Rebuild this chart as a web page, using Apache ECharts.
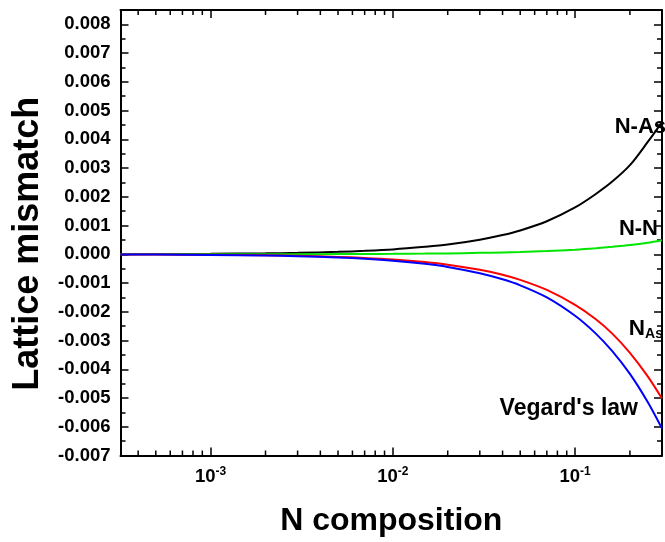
<!DOCTYPE html>
<html>
<head>
<meta charset="utf-8">
<script src="https://cdn.jsdelivr.net/npm/echarts@6/dist/echarts.min.js"></script>
<style>
html,body{margin:0;padding:0;background:#fff;}
#chart{width:665px;height:542px;}
</style>
</head>
<body>
<div id="chart"></div>
<script>
// N composition (x values)
var nComp = [0.00032, 0.0005, 0.001, 0.002, 0.003, 0.005, 0.007, 0.01, 0.015, 0.02, 0.03, 0.04, 0.05, 0.07, 0.1, 0.13, 0.16, 0.2, 0.25, 0.3];
// Lattice mismatch series
var nAs     = [0.000005, 0.000008, 0.000017, 0.000034, 0.00005, 0.000085, 0.00012, 0.00017, 0.00026, 0.00034, 0.00051, 0.00067, 0.00083, 0.00115, 0.00163, 0.0021, 0.00253, 0.0031, 0.0039, 0.0046];
var nN      = [0.0000005, 0.0000008, 0.0000016, 0.0000032, 0.0000048, 0.000008, 0.000011, 0.000016, 0.000024, 0.000032, 0.00005, 0.000065, 0.00008, 0.000112, 0.00016, 0.00021, 0.00026, 0.00032, 0.0004, 0.00049];
var nSubAs  = [-0.0000058, -0.000009, -0.000018, -0.000036, -0.000054, -0.00009, -0.000126, -0.00018, -0.00027, -0.00036, -0.00054, -0.00071, -0.00089, -0.00124, -0.00176, -0.00226, -0.00276, -0.00343, -0.00424, -0.00502];
var vegard  = [-0.000007, -0.000011, -0.000022, -0.000044, -0.000066, -0.00011, -0.000153, -0.00022, -0.00033, -0.00044, -0.00066, -0.00087, -0.00108, -0.0015, -0.00214, -0.00276, -0.00337, -0.00416, -0.00513, -0.00606];
// Series names
var seriesNames = ['N-As', 'N-N', 'N_As', "Vegard's law"];
// Axis ranges / ticks
var xMin = 0.00032, xMax = 0.3;
var yMin = -0.007, yMax = 0.0085, yMajor = 0.001, yMinor = 0.0005;
// Minor tick positions on the log axis
var xMinorTicks = [];
[0.0001, 0.001, 0.01, 0.1].forEach(function (d) {
  for (var k = 2; k <= 9; k++) {
    var v = d * k;
    if (v > xMin && v < xMax * 1.0001) xMinorTicks.push(v);
  }
});

function pairs(ys) { return nComp.map(function (x, i) { return [x, ys[i]]; }); }

var FONT = '"Liberation Sans", Arial, sans-serif';
var axisLine = { show: true, onZero: false, lineStyle: { color: '#000', width: 2 } };

function isDecade(v) {
  var l = Math.log10(v);
  return Math.abs(l - Math.round(l)) < 1e-6;
}

var lbl = { fontFamily: FONT, fontWeight: 'bold', fontSize: 22, color: '#000' };

var chart = echarts.init(document.getElementById('chart'), null, { renderer: 'canvas' });
chart.setOption({
  animation: false,
  backgroundColor: '#fff',
  grid: { left: 120.5, right: 3, top: 10, bottom: 86.5, containLabel: false, outerBoundsMode: 'none' },
  xAxis: [
    {
      type: 'log', logBase: 10, min: xMin, max: xMax, position: 'bottom',
      axisLine: axisLine,
      axisTick: { show: true, inside: true, length: 8, lineStyle: { color: '#000', width: 1.5 } },
      splitLine: { show: false },
      axisLabel: {
        show: true, margin: 10, showMinLabel: false, showMaxLabel: false,
        formatter: function (v) {
          if (!isDecade(v)) return '';
          return '{b|10}{s|' + Math.round(Math.log10(v)) + '}';
        },
        rich: {
          b: { fontFamily: FONT, fontWeight: 'bold', fontSize: 18.5, color: '#000', lineHeight: 22 },
          s: { fontFamily: FONT, fontWeight: 'bold', fontSize: 12, color: '#000', lineHeight: 12, verticalAlign: 'top' }
        }
      },
      name: 'N composition', nameLocation: 'middle', nameGap: 50,
      nameTextStyle: { fontFamily: FONT, fontWeight: 'bold', fontSize: 32, color: '#000' }
    },
    {
      type: 'log', logBase: 10, min: xMin, max: xMax, position: 'top',
      axisLine: axisLine,
      axisTick: { show: true, inside: true, length: 8, lineStyle: { color: '#000', width: 1.5 } },
      axisLabel: { show: false }, splitLine: { show: false }
    }
  ],
  yAxis: [
    {
      type: 'value', min: yMin, max: yMax, interval: yMajor, position: 'left',
      axisLine: axisLine,
      axisTick: { show: true, inside: true, length: 8, lineStyle: { color: '#000', width: 1.5 } },
      splitLine: { show: false },
      axisLabel: {
        show: true, margin: 10, showMaxLabel: false,
        fontFamily: FONT, fontWeight: 'bold', fontSize: 18.5, color: '#000',
        formatter: function (v) {
          if (Math.abs(v - yMax) < 1e-9) return '';
          var s = Math.abs(v).toFixed(3);
          return (v < -1e-9 ? '-' : '') + s;
        }
      },
      name: 'Lattice mismatch', nameLocation: 'middle', nameGap: 74,
      nameTextStyle: { fontFamily: FONT, fontWeight: 'bold', fontSize: 36, color: '#000', padding: [0, 22, 0, 0] }
    },
    {
      type: 'value', min: yMin, max: yMax, interval: yMinor, position: 'left', offset: 0,
      axisLine: { show: false, onZero: false },
      axisTick: { show: true, inside: true, length: 5, lineStyle: { color: '#000', width: 1.5 } },
      axisLabel: { show: false }, splitLine: { show: false }
    },
    {
      type: 'value', min: yMin, max: yMax, interval: yMajor, position: 'right', offset: 0,
      axisLine: axisLine,
      axisTick: { show: true, inside: true, length: 8, lineStyle: { color: '#000', width: 1.5 } },
      axisLabel: { show: false }, splitLine: { show: false }
    },
    {
      type: 'value', min: yMin, max: yMax, interval: yMinor, position: 'right', offset: 0,
      axisLine: { show: false, onZero: false },
      axisTick: { show: true, inside: true, length: 5, lineStyle: { color: '#000', width: 1.5 } },
      axisLabel: { show: false }, splitLine: { show: false }
    }
  ],
  series: [
    {
      name: seriesNames[0], type: 'line', data: pairs(nAs), showSymbol: false, smooth: 0.3,
      lineStyle: { color: '#000000', width: 2 }, z: 2,
      endLabel: { show: true, formatter: 'N-As', align: 'right', verticalAlign: 'middle', offset: [-4, 5], ...lbl }
    },
    {
      name: seriesNames[1], type: 'line', data: pairs(nN), showSymbol: false, smooth: 0.3,
      lineStyle: { color: '#00e600', width: 2 }, z: 3,
      endLabel: { show: true, formatter: 'N-N', align: 'right', verticalAlign: 'middle', offset: [-12, -11], ...lbl }
    },
    {
      name: seriesNames[2], type: 'line', data: pairs(nSubAs), showSymbol: false, smooth: 0.3,
      lineStyle: { color: '#ff0000', width: 2 }, z: 4,
      endLabel: {
        show: true, formatter: '{n|N}{a|As}', align: 'right', verticalAlign: 'middle', offset: [-7, -70],
        rich: {
          n: { fontFamily: FONT, fontWeight: 'bold', fontSize: 22.5, color: '#000', lineHeight: 26 },
          a: { fontFamily: FONT, fontWeight: 'bold', fontSize: 14, color: '#000', lineHeight: 14, verticalAlign: 'bottom' }
        }
      }
    },
    {
      name: seriesNames[3], type: 'line', data: pairs(vegard), showSymbol: false, smooth: 0.3,
      lineStyle: { color: '#0000ff', width: 2 }, z: 5,
      endLabel: { show: true, formatter: "Vegard's law", align: 'right', verticalAlign: 'middle', offset: [-32, -20], fontFamily: FONT, fontWeight: 'bold', fontSize: 23, color: '#000' }
    },
    {
      type: 'custom', silent: true, xAxisIndex: 0, yAxisIndex: 0, z: 10,
      data: xMinorTicks.map(function (v) { return [v, 0]; }),
      encode: { x: 0, y: 1 },
      clip: false,
      renderItem: function (params, api) {
        var x = api.coord([api.value(0), 0])[0];
        var cs = params.coordSys;
        var st = { stroke: '#000', lineWidth: 1.5 };
        return {
          type: 'group',
          children: [
            { type: 'line', shape: { x1: x, y1: cs.y + cs.height, x2: x, y2: cs.y + cs.height - 5 }, style: st },
            { type: 'line', shape: { x1: x, y1: cs.y, x2: x, y2: cs.y + 5 }, style: st }
          ]
        };
      }
    }
  ]
});
</script>
</body>
</html>
